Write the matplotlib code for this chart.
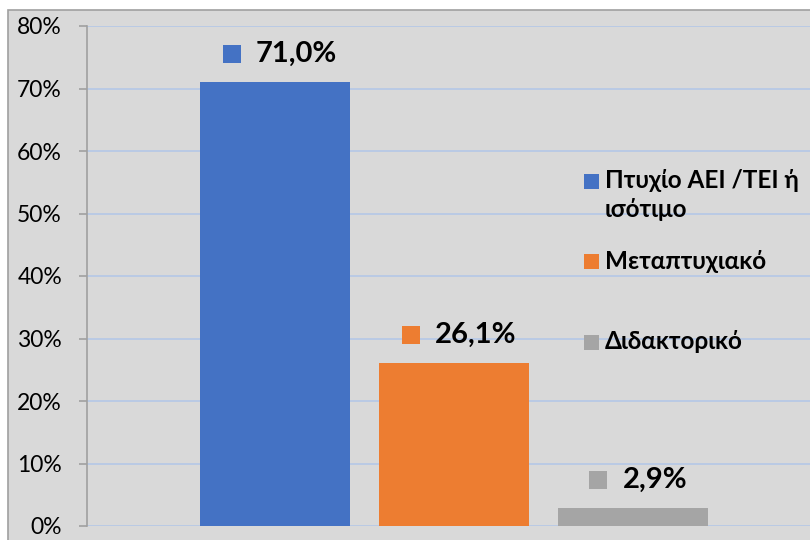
import matplotlib.pyplot as plt
from matplotlib.patches import Rectangle
from matplotlib.offsetbox import AnnotationBbox, DrawingArea, TextArea, HPacker

plt.rcParams['font.family'] = ['Lato', 'Open Sans', 'DejaVu Sans']

# data
categories = ["Πτυχίο ΑΕΙ /ΤΕΙ ή\nισότιμο", "Μεταπτυχιακό", "Διδακτορικό"]
values = [71.0, 26.1, 2.9]
value_labels = ["71,0%", "26,1%", "2,9%"]
colors = ["#4472C4", "#ED7D31", "#A5A5A5"]
yticks = [0, 10, 20, 30, 40, 50, 60, 70, 80]

W, H = 810, 540
fig = plt.figure(figsize=(8.1, 5.4), dpi=100, facecolor="white")

# chart area background with border (top/left visible)
fig.patches.append(Rectangle((8 / W, -0.1), 1.2, 1 - 10 / H + 0.1,
                             transform=fig.transFigure, facecolor="#D9D9D9",
                             edgecolor="#A0A0A0", linewidth=1.2, zorder=-5))

ax = fig.add_axes([87 / W, 14 / H, 1 - 87 / W, 500 / H])
ax.set_facecolor("none")

x = range(len(values))
ax.bar(x, values, width=0.838, color=colors, zorder=3)

ax.set_xlim(-1.0475, 2.9916)
ax.set_ylim(0, 80)
ax.set_yticks(yticks)
ax.set_yticklabels([f"{t}%" for t in yticks], fontsize=16.5, color="black")
ax.set_xticks([])
ax.grid(axis="y", color="#B4C7E7", linewidth=1.2, zorder=1)
for s in ["top", "right", "bottom"]:
    ax.spines[s].set_visible(False)
ax.spines["left"].set_color("#A0A0A0")
ax.spines["left"].set_linewidth(1.2)
ax.tick_params(axis="y", length=6, width=1.2, color="#A0A0A0", pad=12)

# data labels with colour keys
for xi, v, lab, c in zip(x, values, value_labels, colors):
    sq = DrawingArea(13, 13)
    sq.add_artist(Rectangle((0, 0), 13, 13, facecolor=c, edgecolor="none"))
    txt = TextArea(lab, textprops=dict(fontsize=21, fontweight="bold", color="black"))
    box = HPacker(children=[sq, txt], align="center", pad=0, sep=11)
    ab = AnnotationBbox(box, (xi, v), xybox=(4, 11), xycoords="data",
                        boxcoords="offset points", box_alignment=(0.5, 0),
                        frameon=False, zorder=5)
    ax.add_artist(ab)

# legend on the right
legend_y = [181, 262, 342]
for yy, lab, c in zip(legend_y, categories, colors):
    fig.patches.append(Rectangle((584 / W, 1 - (yy + 7.5) / H), 15 / W, 15 / H,
                                 transform=fig.transFigure, facecolor=c,
                                 edgecolor="none", zorder=5))
    fig.text(605 / W, 1 - (yy - 12) / H, lab, fontsize=17.5, fontweight="bold",
             va="top", ha="left", linespacing=1.3)

fig.savefig("out.png", dpi=100, facecolor="white")
